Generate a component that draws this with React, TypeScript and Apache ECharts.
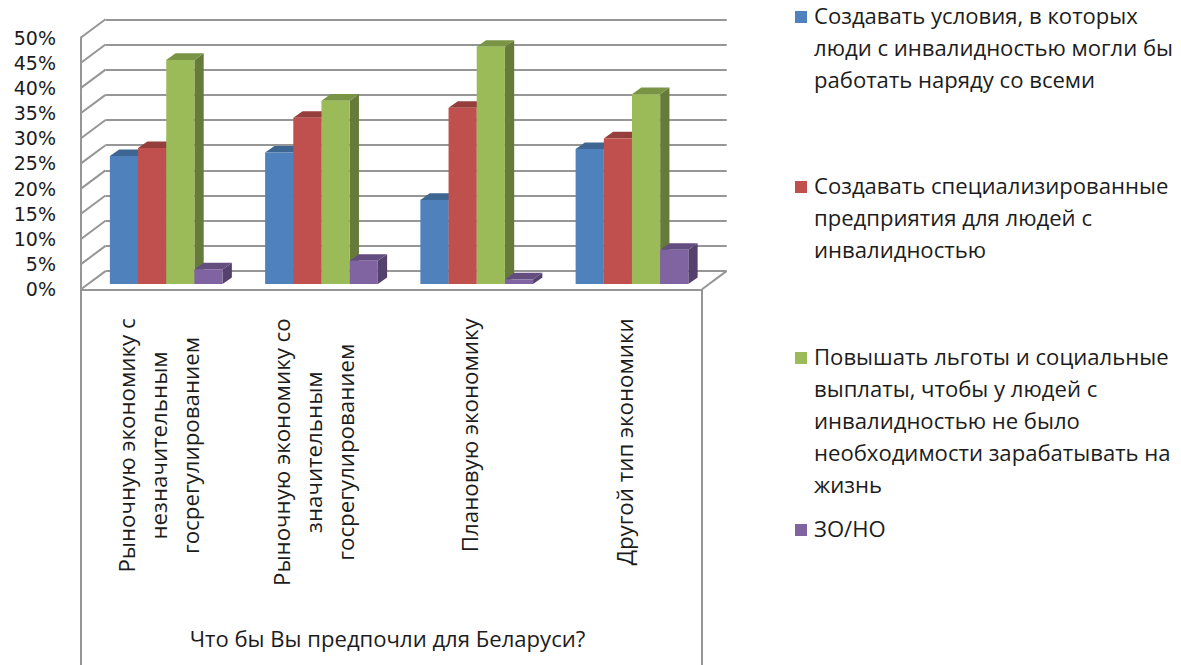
import React, { useEffect, useRef } from "react";
import * as echarts from "echarts";

const categories = [
  ["Рыночную экономику с", "незначительным", "госрегулированием"],
  ["Рыночную экономику со", "значительным", "госрегулированием"],
  ["Плановую экономику"],
  ["Другой тип экономики"],
];
const axisTitle = "Что бы Вы предпочли для Беларуси?";
const legendLines = [
  ["Создавать условия, в которых", "люди с инвалидностью могли бы", "работать наряду со всеми"],
  ["Создавать специализированные", "предприятия для людей с", "инвалидностью"],
  ["Повышать льготы и социальные", "выплаты, чтобы у людей с", "инвалидностью не было", "необходимости зарабатывать на", "жизнь"],
  ["ЗО/НО"],
];
const workConditions = [25.4, 26.1, 16.7, 26.8];
const specialised = [27.0, 33.0, 35.0, 28.9];
const benefits = [44.5, 36.4, 47.1, 37.7];
const noAnswer = [2.9, 4.6, 0.9, 6.8];
const seriesValues = [workConditions, specialised, benefits, noAnswer];
const ticks = [0, 5, 10, 15, 20, 25, 30, 35, 40, 45, 50];

const front = ["#4F81BD", "#C0504D", "#9BBB59", "#8064A2"];
const topFace = ["#3E6693", "#963E3C", "#7A9446", "#644E80"];
const sideFace = ["#325277", "#7A3230", "#667A3A", "#54426C"];

const FONT = "Open Sans";
const TICK_FONT = "DejaVu Sans";
const TEXT = "#1c1c1c";
const LINE = "#969696";
const legendTops = [-1, 169, 340, 512];
const LH = 32;
const LEGEND_SIZE = 22.1;
const CAT_SIZE = 22.3;

function App() {
  const ref = useRef<HTMLDivElement>(null);
  useEffect(() => {
    const chart = echarts.init(ref.current!, undefined, { renderer: "svg" });

    const barSeries = seriesValues.map((vals, k) => ({
      type: "custom",
      name: legendLines[k].join(" "),
      xAxisIndex: 0,
      yAxisIndex: 0,
      clip: false,
      z: 5,
      itemStyle: { color: front[k] },
      encode: { x: 0, y: 1 },
      data: vals.map((v, i) => [i, v]),
      renderItem: (_p: any, api: any) => {
        const c = api.coord([api.value(0), api.value(1)]);
        const b = api.coord([api.value(0), 0]);
        const w = api.size([1, 0])[0] * 0.1815;
        const ox = 7.6, oy = -5.3, dx = 9.3, dy = -6.6;
        const x0 = c[0] + ox + (k - 2) * w;
        const x1 = x0 + w;
        const yT = c[1] + oy;
        const yB = b[1] + oy;
        return {
          type: "group",
          children: [
            { type: "polygon", shape: { points: [[x1, yT], [x1 + dx, yT + dy], [x1 + dx, yB + dy], [x1, yB]] }, style: { fill: sideFace[k] } },
            { type: "polygon", shape: { points: [[x0, yT], [x0 + dx, yT + dy], [x1 + dx, yT + dy], [x1, yT]] }, style: { fill: topFace[k] } },
            { type: "rect", shape: { x: x0, y: yT, width: w, height: yB - yT }, style: { fill: front[k] } },
          ],
        };
      },
    }));

    const wallSeries = {
      type: "custom",
      xAxisIndex: 0,
      yAxisIndex: 0,
      clip: false,
      silent: true,
      z: 1,
      encode: { y: 0 },
      data: ticks.map((t) => [t]),
      renderItem: (p: any, api: any) => {
        const y = api.coord([0, api.value(0)])[1];
        const x = p.coordSys.x;
        const w = p.coordSys.width;
        const style = { stroke: LINE, lineWidth: 2, fill: "none" };
        const children: any[] = [
          { type: "line", shape: { x1: x, y1: y, x2: x + 24.5, y2: y - 18.2 }, style },
        ];
        if (api.value(0) === 0) {
          children.push({ type: "line", shape: { x1: x + w, y1: y, x2: x + w + 24.5, y2: y - 18.2 }, style });
          children.push({ type: "line", shape: { x1: x, y1: y, x2: x, y2: 665 }, style });
          children.push({ type: "line", shape: { x1: x + w, y1: y, x2: x + w, y2: 665 }, style });
        }
        return { type: "group", children };
      },
    };

    const legends = legendLines.map((lines, k) => {
      const h = lines.length * LH;
      return {
        show: true,
        left: 795,
        top: legendTops[k],
        padding: 0,
        orient: "vertical",
        selectedMode: false,
        itemWidth: 14,
        itemHeight: h,
        itemGap: 0,
        icon: `path://M0 12H12V24H0Z M14 0L14 0 M14 ${h}L14 ${h}`,
        data: [lines.join(" ")],
        formatter: () => lines.join("\n"),
        textStyle: { fontFamily: FONT, fontSize: LEGEND_SIZE, color: TEXT, lineHeight: LH },
      };
    });

    chart.setOption({
      animation: false,
      backgroundColor: "#ffffff",
      legend: legends,
      grid: [
        { left: 81, right: 479, top: 37.5, bottom: 375.7 },
        { left: 105.5, right: 454.3, top: 19.3, bottom: 394 },
      ],
      xAxis: [
        {
          type: "category",
          gridIndex: 0,
          data: categories.map((c) => c.join(" ")),
          name: axisTitle,
          nameLocation: "middle",
          nameGap: 338,
          nameTextStyle: { fontFamily: FONT, fontSize: LEGEND_SIZE, color: TEXT, padding: [0, 8, 0, 0] },
          axisLine: { show: true, lineStyle: { color: LINE, width: 2 } },
          axisTick: { show: false },
          splitLine: { show: false },
          axisLabel: {
            interval: 0,
            rotate: 90,
            margin: 29,
            align: "right",
            verticalAlign: "middle",
            lineHeight: LH,
            fontFamily: FONT,
            fontSize: CAT_SIZE,
            color: TEXT,
            formatter: (_v: string, i: number) => categories[i].map((l) => `{c|${l}}`).join("\n"),
            rich: { c: { align: "center", fontFamily: FONT, fontSize: CAT_SIZE, color: TEXT, lineHeight: LH } },
          },
        },
        {
          type: "category",
          gridIndex: 1,
          data: categories.map((c) => c.join(" ")),
          show: false,
        },
      ],
      yAxis: [
        {
          type: "value",
          gridIndex: 0,
          min: 0,
          max: 50,
          interval: 5,
          axisLine: { show: true, lineStyle: { color: LINE, width: 2 } },
          axisTick: { show: false },
          splitLine: { show: false },
          axisLabel: { margin: 25, formatter: "{value}%", fontFamily: TICK_FONT, fontSize: 19, lineHeight: 24, color: TEXT },
        },
        {
          type: "value",
          gridIndex: 1,
          min: 0,
          max: 50,
          interval: 5,
          axisLine: { show: false },
          axisTick: { show: false },
          axisLabel: { show: false },
          splitLine: { show: true, lineStyle: { color: LINE, width: 2, type: "solid" } },
        },
      ],
      series: [wallSeries, ...barSeries],
    });
    return () => chart.dispose();
  }, []);
  return <div ref={ref} style={{ position: "absolute", left: 0, top: 0, width: 1181, height: 665 }} />;
}

export default App;
